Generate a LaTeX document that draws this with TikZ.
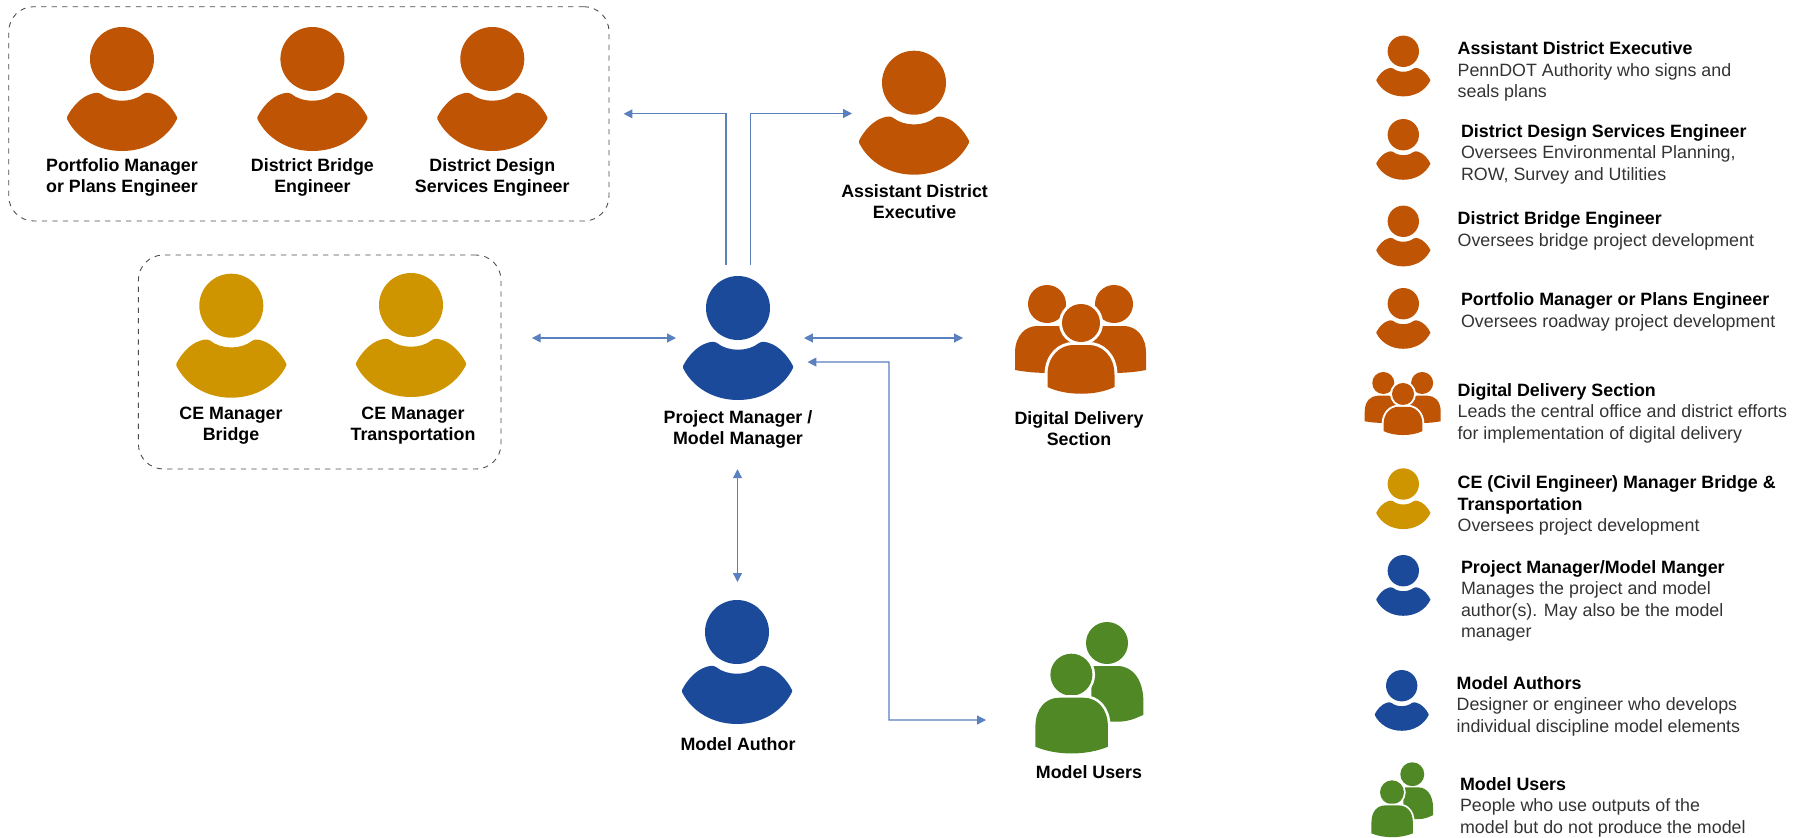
\documentclass[tikz,border=0pt]{standalone}
\usepackage{fontspec}
\setmainfont{Liberation Sans}
\usetikzlibrary{arrows.meta,fit}

\definecolor{rustorange}{HTML}{BF5504}
\definecolor{cegold}{HTML}{CF9500}
\definecolor{pmblue}{HTML}{1C4A9A}
\definecolor{usergreen}{HTML}{4F8824}
\definecolor{linkblue}{HTML}{5A80BE}
\definecolor{bodygrey}{HTML}{333333}

\newcommand{\legendhead}[1]{{\bfseries\color{black}#1}}

\tikzset{
	iconbox/.style = {inner sep=0pt, outer sep=0pt},
	groupbox/.style = {inner sep=0pt, outer sep=0pt, draw=black!70, dashed, line width=0.5pt, rounded corners=0.5cm},
	namelabel/.style = {align=center, inner sep=0pt, font=\fontsize{10.15}{12}\selectfont\bfseries},
	legendtext/.style = {align=left, anchor=west, inner sep=0pt, text=bodygrey, font=\fontsize{10.15}{12.25}\selectfont},
	link/.style = {draw=linkblue, line width=0.7pt, >={Triangle[length=5pt,width=5pt]}},
	pics/person/.style = {
		code = {
			\fill[#1] (0,0) circle[radius=32];
			\fill[#1] (-21,35) .. controls (-10,44) and (10,44) .. (21,35)
				.. controls (24,33) and (28,34) .. (31,35)
				.. controls (41,38) and (50,48) .. (55,58)
				-- (55,60) .. controls (45,80) and (24,92) .. (0,92)
				.. controls (-24,92) and (-45,80) .. (-55,60)
				-- (-55,58) .. controls (-50,48) and (-41,38) .. (-31,35)
				.. controls (-28,34) and (-24,33) .. (-21,35) -- cycle;
		}
	},
	pics/crowd/.style 2 args = {
		code = {
			\fill[#1] (-34,-19) circle[radius=19];
			\fill[#1] (33,-19) circle[radius=19];
			\fill[#1] (-66,47) -- (-66,30) .. controls (-66,12) and (-55,3) .. (-44,3)
				-- (-24,3) .. controls (-12,3) and (0,12) .. (0,30) -- (0,50) -- (-30,50)
				.. controls (-45,50) and (-55,49) .. (-66,47) -- cycle;
			\fill[#1] (65,47) -- (65,30) .. controls (65,12) and (54,3) .. (43,3)
				-- (24,3) .. controls (12,3) and (0,12) .. (0,30) -- (0,50) -- (30,50)
				.. controls (45,50) and (55,49) .. (65,47) -- cycle;
			\fill[#1, preaction={draw=white, line width=#2}] (0,0) circle[radius=19];
			\fill[#1, preaction={draw=white, line width=#2}] (-33.5,64) -- (-33.5,52)
				.. controls (-33.5,32) and (-20,22) .. (-8,22) -- (8,22)
				.. controls (20,22) and (33.5,32) .. (33.5,52) -- (33.5,64)
				.. controls (15,73) and (-15,73) .. (-33.5,64) -- cycle;
		}
	},
	pics/duo/.style 2 args = {
		code = {
			\fill[#1] (35.6,-31.7) circle[radius=21];
			\fill[#1] (20,-8.7) -- (46,-8.7) .. controls (62,-8.7) and (72,6) .. (72,27)
				-- (72,40) .. controls (64,44) and (56,47) .. (46,47) -- (20,47) -- cycle;
			\fill[#1, preaction={draw=white, line width=#2}] (0,0) circle[radius=21];
			\fill[#1, preaction={draw=white, line width=#2}] (-36,72) -- (-36,52)
				.. controls (-36,34) and (-26,23) .. (-12,23) -- (12,23)
				.. controls (26,23) and (36.5,34) .. (36.5,52) -- (36.5,72)
				.. controls (15,81) and (-15,81) .. (-36,72) -- cycle;
		}
	}
}

\begin{document}
\begin{tikzpicture}[x=0.02cm, y=-0.02cm]
	\useasboundingbox (0,0) rectangle (1808,838);

	\node[groupbox, fit={(8.7,6.7) (609,221)}] (designteam) {};
	\node[groupbox, fit={(138.4,255) (501,469)}] (ceteam) {};

	\pic at (122,59) {person=rustorange};
	\pic at (312.4,59) {person=rustorange};
	\pic at (492.3,59) {person=rustorange};
	\pic at (231.3,305.7) {person=cegold};
	\pic at (411,305) {person=cegold};
	\pic at (914,82.7) {person=rustorange};
	\pic at (738,308) {person=pmblue};
	\pic at (737,632) {person=pmblue};
	\pic at (1081,323) {crowd={rustorange}{3.4pt}};
	\pic at (1071.4,674.7) {duo={usergreen}{3pt}};

	\node[iconbox, fit={(852,50) (976,177)}] (ade) {};
	\node[iconbox, fit={(676,265) (804,411)}] (pm) {};
	\node[iconbox, fit={(963,281) (1150,395)}] (digital) {};
	\node[iconbox, fit={(680,582) (795,724)}] (author) {};
	\node[iconbox, fit={(986,640) (1143,800)}] (users) {};

	\node[namelabel] (portfolio) at (122,177.5) {Portfolio Manager\\or Plans Engineer};
	\node[namelabel] (bridge) at (312.4,177.5) {District Bridge\\Engineer};
	\node[namelabel] (services) at (492.3,177.5) {District Design\\Services Engineer};
	\node[namelabel] (cebridge) at (231,426) {CE Manager\\Bridge};
	\node[namelabel] (cetrans) at (413,426) {CE Manager\\Transportation};
	\node[namelabel] (adelabel) at (914.6,201.5) {Assistant District\\Executive};
	\node[namelabel] (pmlabel) at (738,429) {Project Manager /\\Model Manager};
	\node[namelabel] (digitallabel) at (1079,428.5) {Digital Delivery\\Section};
	\node[namelabel] (authorlabel) at (738,744) {Model Author};
	\node[namelabel] (userslabel) at (1089,772) {Model Users};

	\draw[link,->] ([xshift=-8pt]pm.north) |- ([xshift=8.3pt]designteam.east);
	\draw[link,->] ([xshift=5.9pt]pm.north) |- (ade.west);
	\draw[link,<->] ([xshift=17.6pt]pm.west -| ceteam.east) -- (pm.west);
	\draw[link,<->] (pm.east) -- (digital.west);
	\draw[link,<->,shorten <=0.42cm] (pmlabel.south -| author.north) -- (author.north);
	\draw[link,<->] ([xshift=2pt,yshift=-13.7pt]pm.east) -- (889,362) |- (users.west);

	\pic[scale=.49] at (1403.3,51.3) {person=rustorange};
	\pic[scale=.49] at (1403.3,134.7) {person=rustorange};
	\pic[scale=.49] at (1403.3,221.3) {person=rustorange};
	\pic[scale=.49] at (1403.3,303.7) {person=rustorange};
	\pic[scale=.58] at (1403,394) {crowd={rustorange}{2.2pt}};
	\pic[scale=.49] at (1403.3,484) {person=cegold};
	\pic[scale=.49] at (1403.3,570.7) {person=pmblue};
	\pic[scale=.49] at (1401.7,685.7) {person=pmblue};
	\pic[scale=.57] at (1392,792.3) {duo={usergreen}{2pt}};

	\node[legendtext] (adetext) at (1457.3,71.5) {\legendhead{Assistant District Executive}\\PennDOT Authority who signs and\\seals plans};
	\node[legendtext] (servicestext) at (1460.7,154) {\legendhead{District Design Services Engineer}\\Oversees Environmental Planning,\\ROW, Survey and Utilities};
	\node[legendtext] (bridgetext) at (1457.3,231) {\legendhead{District Bridge Engineer}\\Oversees bridge project development};
	\node[legendtext] (portfoliotext) at (1460.7,312) {\legendhead{Portfolio Manager or Plans Engineer}\\Oversees roadway project development};
	\node[legendtext] (digitaltext) at (1457.3,413) {\legendhead{Digital Delivery Section}\\Leads the central office and district efforts\\for implementation of digital delivery};
	\node[legendtext] (cetext) at (1457.3,505.5) {\legendhead{CE (Civil Engineer) Manager Bridge \&}\\\legendhead{Transportation}\\Oversees project development};
	\node[legendtext] (pmtext) at (1460.7,601) {\legendhead{Project Manager/Model Manger}\\Manages the project and model\\author(s). May also be the model\\manager};
	\node[legendtext] (authortext) at (1456.3,706.3) {\legendhead{Model Authors}\\Designer or engineer who develops\\individual discipline model elements};
	\node[legendtext] (userstext) at (1459.7,807) {\legendhead{Model Users}\\People who use outputs of the\\model but do not produce the model};
\end{tikzpicture}
\end{document}
